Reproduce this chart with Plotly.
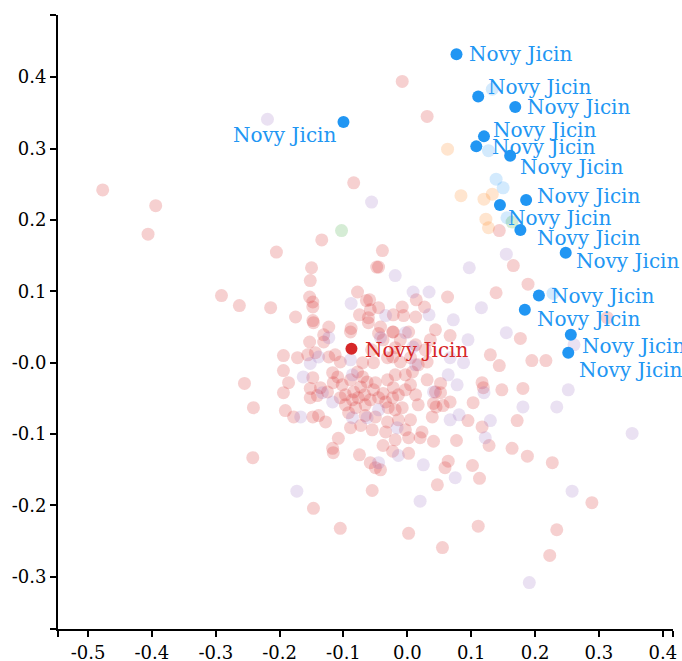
import plotly.graph_objects as go

# ---------------- data ----------------
red_x = [-0.477, -0.394, -0.406, -0.134, -0.205, -0.150, -0.152, -0.291, -0.263, -0.214,
         -0.153, -0.148, -0.148, -0.175, -0.148, -0.123, -0.039, -0.048, -0.045, -0.078,
         -0.064, -0.059, -0.045, -0.058, -0.075, -0.022, -0.061, -0.008, 0.031, -0.084,
         0.144, 0.166, 0.189, 0.139, 0.063, 0.014, 0.027, -0.008, -0.006, 0.013,
         0.313, -0.147, -0.131, -0.131, -0.088, -0.061, -0.042, -0.022, -0.038, -0.153,
         -0.144, -0.194, -0.172, -0.156, -0.123, -0.113, -0.105, -0.070, -0.053, -0.023,
         -0.194, -0.186, -0.148, -0.117, -0.109, -0.116, -0.070, -0.063, -0.050, -0.031,
         -0.194, -0.152, -0.136, -0.125, -0.097, -0.084, -0.073, -0.053, -0.038, -0.022,
         -0.255, -0.152, -0.141, -0.241, -0.191, -0.178, -0.148, -0.139, -0.128, -0.108,
         -0.117, -0.116, -0.242, -0.147, -0.105, -0.092, -0.089, -0.073, -0.055, -0.066,
         -0.050, -0.034, -0.031, -0.038, -0.075, -0.058, -0.042, -0.050, -0.089, -0.045,
         -0.023, 0.002, 0.067, 0.177, -0.056, -0.031, 0.031, 0.130, 0.144, 0.195,
         0.217, 0.052, 0.117, 0.119, 0.148, 0.181, 0.044, 0.052, 0.067, 0.103,
         0.045, 0.056, 0.039, 0.095, 0.117, 0.172, 0.128, 0.077, 0.041, 0.002,
         0.020, 0.002, 0.164, 0.188, 0.227, 0.064, 0.059, 0.102, 0.113, 0.047,
         -0.055, 0.289, 0.002, 0.111, 0.234, 0.055, 0.223, 0.041, 0.023, 0.031,
         -0.011,
         -0.105, -0.097, -0.086, -0.077, -0.067, -0.058, -0.045, -0.034, -0.023, -0.014,
         -0.003, 0.005, 0.013, 0.017, -0.008, -0.019, -0.030, -0.066, -0.081, -0.102,
         -0.089, -0.078, -0.019, -0.003, 0.008, -0.011, 0.005, 0.017, -0.014, 0.005,
         -0.003, -0.019, -0.023,
         0.013, 0.028, 0.044, -0.019, 0.036]
red_y = [0.242, 0.220, 0.180, 0.172, 0.155, 0.133, 0.115, 0.094, 0.080, 0.077,
         0.092, 0.085, 0.078, 0.064, 0.059, 0.050, 0.157, 0.134, 0.134, 0.099,
         0.087, 0.088, 0.077, 0.074, 0.067, 0.067, 0.063, 0.394, 0.345, 0.252,
         0.185, 0.136, 0.110, 0.098, 0.092, 0.088, 0.078, 0.078, 0.066, 0.064,
         0.063, 0.056, 0.039, 0.029, 0.048, 0.056, 0.050, 0.043, 0.032, 0.029,
         0.014, 0.010, 0.007, 0.011, 0.008, 0.011, 0.001, 0.000, 0.000, 0.008,
         -0.011, -0.028, -0.021, -0.014, -0.020, -0.028, -0.020, -0.027, -0.028, -0.024,
         -0.042, -0.036, -0.035, -0.041, -0.045, -0.041, -0.034, -0.038, -0.043, -0.035,
         -0.029, -0.049, -0.046, -0.063, -0.067, -0.076, -0.076, -0.074, -0.083, -0.106,
         -0.120, -0.126, -0.133, -0.204, -0.232, -0.070, -0.091, -0.088, -0.094, -0.074,
         -0.076, -0.097, -0.083, -0.116, -0.129, -0.140, -0.150, -0.147, 0.043, 0.041,
         0.043, 0.043, 0.038, 0.034, 0.018, 0.007, 0.001, 0.011, -0.004, 0.003,
         0.003, -0.029, -0.028, -0.035, -0.038, -0.036, -0.041, -0.042, -0.055, -0.056,
         -0.062, -0.060, -0.076, -0.081, -0.090, -0.081, -0.116, -0.109, -0.110, -0.105,
         -0.105, -0.127, -0.120, -0.131, -0.140, -0.138, -0.147, -0.144, -0.162, -0.171,
         -0.179, -0.196, -0.239, -0.229, -0.234, -0.259, -0.270, -0.057, -0.097, -0.024,
         0.032,
         -0.049, -0.059, -0.052, -0.049, -0.045, -0.052, -0.049, -0.055, -0.049, -0.045,
         -0.038, -0.031, -0.045, -0.059, -0.063, -0.066, -0.063, -0.059, -0.063, -0.031,
         -0.024, -0.013, -0.017, -0.017, -0.013, 0.001, 0.007, -0.003, -0.080, -0.080,
         -0.094, -0.108, -0.124,
         0.025, 0.018, 0.046, 0.021, 0.032]

purple_x = [-0.219, -0.019, -0.088, -0.034, -0.056, 0.155, 0.097, 0.009, 0.034, 0.116,
            0.034, 0.072, -0.123, -0.042, -0.152, -0.139, -0.089, -0.163, -0.086, -0.133,
            -0.117, -0.167, -0.173, -0.003, 0.095, 0.155, 0.009, 0.261, 0.013, 0.067,
            0.088, 0.064, 0.078, 0.120, 0.252, 0.041, 0.181, 0.234, 0.067, 0.081,
            0.130, 0.122, 0.352, -0.014, -0.045, 0.025, 0.075, 0.020, 0.258, 0.191,
            -0.086, -0.063, -0.045, -0.016]
purple_y = [0.341, 0.122, 0.083, 0.066, 0.225, 0.152, 0.133, 0.099, 0.099, 0.077,
            0.067, 0.060, 0.035, 0.035, -0.001, 0.008, 0.004, -0.020, -0.017, -0.042,
            -0.055, -0.076, -0.180, 0.042, 0.032, 0.042, 0.022, 0.025, -0.003, 0.007,
            0.000, -0.017, -0.031, -0.042, -0.038, -0.041, -0.062, -0.062, -0.080, -0.073,
            -0.081, -0.105, -0.099, -0.130, -0.140, -0.143, -0.161, -0.194, -0.180, -0.308,
            -0.077, -0.077, -0.066, -0.091]

orange_x = [0.063, 0.084, 0.120, 0.133, 0.123, 0.127]
orange_y = [0.299, 0.234, 0.229, 0.236, 0.201, 0.189]

lightblue_x = [0.133, 0.127, 0.139, 0.150, 0.156, 0.228]
lightblue_y = [0.383, 0.297, 0.257, 0.245, 0.203, 0.097]

green_x = [-0.103, 0.164]
green_y = [0.185, 0.197]

blue_x = [0.077, 0.111, 0.169, -0.100, 0.120, 0.108, 0.161, 0.186, 0.145, 0.177,
          0.248, 0.206, 0.184, 0.256, 0.252]
blue_y = [0.432, 0.373, 0.358, 0.337, 0.317, 0.303, 0.290, 0.228, 0.221, 0.186,
          0.154, 0.094, 0.074, 0.039, 0.014]
blue_label = "Novy Jicin"

hl_red_x = [-0.0875]
hl_red_y = [0.0196]
hl_red_label = "Novy Jicin"

x_ticks = [-0.5, -0.4, -0.3, -0.2, -0.1, 0.0, 0.1, 0.2, 0.3, 0.4]
x_tick_text = ["-0.5", "-0.4", "-0.3", "-0.2", "-0.1", "0.0", "0.1", "0.2", "0.3", "0.4"]
y_ticks = [-0.3, -0.2, -0.1, 0.0, 0.1, 0.2, 0.3, 0.4]
y_tick_text = ["-0.3", "-0.2", "-0.1", "-0.0", "0.1", "0.2", "0.3", "0.4"]

x_range = [-0.547, 0.416]
y_range = [-0.373, 0.487]

# ---------------- styles ----------------
FONT = "Rockwell, 'DejaVu Serif', serif"
BLUE = "#2196f3"
RED = "#d62728"
LABEL_SIZE = 20
TICK_SIZE = 18
# label offsets (pixels): (xshift, yshift, anchor)
blue_offsets = [(10, 0, "left"), (8, 9, "left"), (10, 0, "left"), (-4, -13, "right"),
                (7, 6, "left"), (14, -1, "left"), (8, -11, "left"), (9, 4, "left"),
                (6, -13, "left"), (15, -8, "left"), (8, -8, "left"), (10, 0, "left"),
                (10, -9, "left"), (9, -11, "left"), (9, -17, "left")]

fig = go.Figure()

def faint(xs, ys, color):
    fig.add_trace(go.Scatter(x=xs, y=ys, mode="markers", hoverinfo="skip",
                             marker=dict(size=13, color=color, line=dict(width=0))))

faint(red_x, red_y, "rgba(214,39,40,0.22)")
faint(purple_x, purple_y, "rgba(148,103,189,0.2)")
faint(orange_x, orange_y, "rgba(255,127,14,0.2)")
faint(lightblue_x, lightblue_y, "rgba(33,150,243,0.2)")
faint(green_x, green_y, "rgba(44,160,44,0.2)")

fig.add_trace(go.Scatter(x=blue_x, y=blue_y, mode="markers",
                         marker=dict(size=12, color=BLUE, line=dict(width=0))))
fig.add_trace(go.Scatter(x=hl_red_x, y=hl_red_y, mode="markers",
                         marker=dict(size=12, color=RED, line=dict(width=0))))

annotations = []
for xv, yv, (dx, dy, anc) in zip(blue_x, blue_y, blue_offsets):
    annotations.append(dict(x=xv, y=yv, xref="x", yref="y", text=blue_label,
                            showarrow=False, xanchor=anc, yanchor="middle",
                            xshift=dx, yshift=dy,
                            font=dict(family=FONT, size=LABEL_SIZE, color=BLUE)))
for xv, yv in zip(hl_red_x, hl_red_y):
    annotations.append(dict(x=xv, y=yv, xref="x", yref="y", text=hl_red_label,
                            showarrow=False, xanchor="left", yanchor="middle",
                            xshift=12, yshift=-1,
                            font=dict(family=FONT, size=LABEL_SIZE, color=RED)))

fig.update_layout(
    width=682, height=661,
    margin=dict(l=58, r=9, t=15, b=32),
    paper_bgcolor="white", plot_bgcolor="white",
    showlegend=False,
    annotations=annotations,
    font=dict(family=FONT, size=TICK_SIZE, color="black"),
)
fig.update_xaxes(range=x_range, showgrid=False, zeroline=False,
                 showline=True, linecolor="black", linewidth=2,
                 ticks="outside", ticklen=6, tickwidth=2, tickcolor="black",
                 tickvals=[x_range[0]] + x_ticks + [x_range[1]],
                 ticktext=[""] + x_tick_text + [""],
                 tickfont=dict(family=FONT, size=TICK_SIZE, color="black"),
                 automargin=False)
fig.update_yaxes(range=y_range, showgrid=False, zeroline=False,
                 showline=True, linecolor="black", linewidth=2,
                 ticks="outside", ticklen=6, tickwidth=2, tickcolor="black",
                 tickvals=[y_range[0]] + y_ticks + [y_range[1]],
                 ticktext=[""] + y_tick_text + [""],
                 tickfont=dict(family=FONT, size=TICK_SIZE, color="black"),
                 automargin=False)

fig.write_html("out.html")
